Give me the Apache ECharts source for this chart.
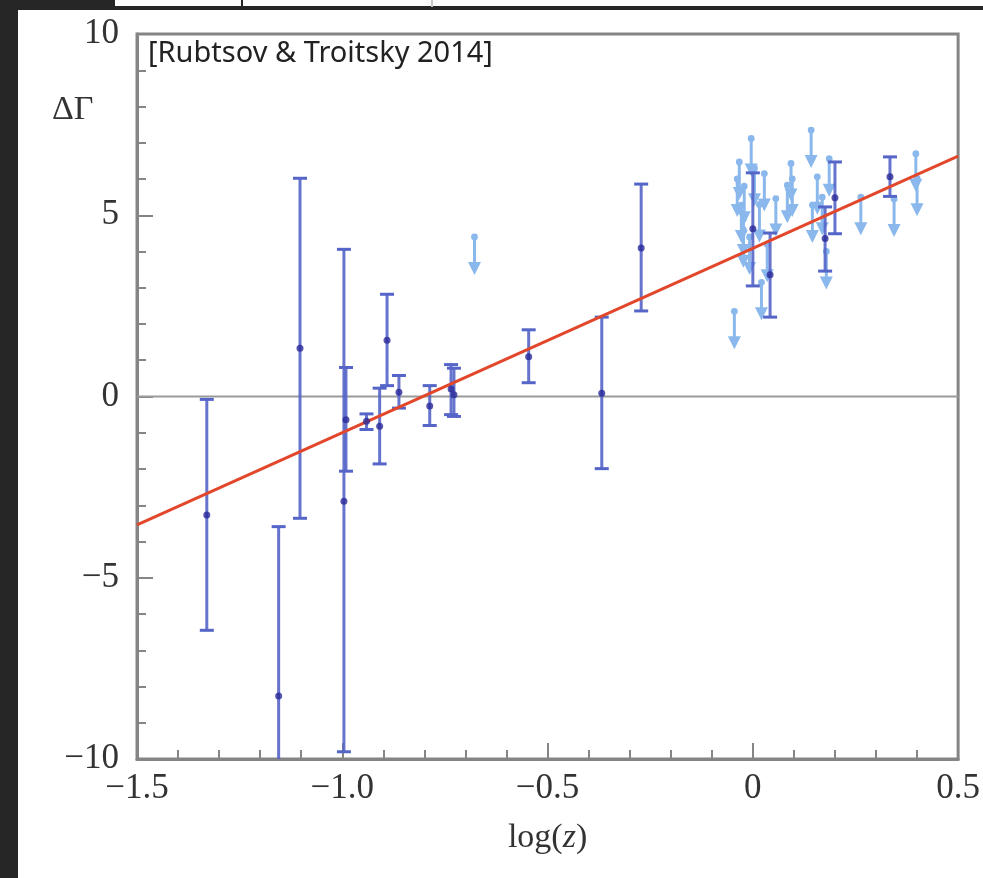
<!DOCTYPE html>
<html>
<head>
<meta charset="utf-8">
<script src="https://cdn.jsdelivr.net/npm/echarts@6/dist/echarts.min.js"></script>
<style>
html,body{margin:0;padding:0;background:#fff;}
#chart{width:983px;height:878px;}
</style>
</head>
<body>
<div id="chart"></div>
<script>
// ---- data ----
// measured points: [log z, ΔΓ, lower end of error bar, upper end of error bar]
var measuredX  = [-1.330, -1.155, -1.103, -0.996, -0.991, -0.941, -0.909, -0.891, -0.862, -0.787, -0.735, -0.728, -0.546, -0.368, -0.272, 0.000, 0.042, 0.176, 0.200, 0.334];
var measuredY  = [-3.27, -8.26, 1.33, -2.89, -0.64, -0.68, -0.82, 1.55, 0.12, -0.26, 0.21, 0.05, 1.10, 0.09, 4.10, 4.63, 3.36, 4.36, 5.48, 6.06];
var measuredLo = [-6.45, -12.0, -3.36, -9.80, -2.06, -0.91, -1.86, 0.30, -0.32, -0.80, -0.50, -0.55, 0.38, -1.99, 2.36, 3.05, 2.19, 3.46, 4.49, 5.52];
var measuredHi = [-0.08, -3.59, 6.02, 4.06, 0.80, -0.48, 0.23, 2.82, 0.58, 0.30, 0.88, 0.78, 1.84, 2.19, 5.86, 6.17, 4.51, 5.23, 6.47, 6.61];

// upper limits (light-blue arrows): [log z, ΔΓ]
var limitX = [-0.678, -0.045, -0.033, -0.038, -0.028, -0.023, -0.021, -0.023, -0.004, -0.008, 0.004, 0.016, 0.021, 0.028, 0.035, 0.056, 0.084, 0.093, 0.096, 0.142, 0.145, 0.157, 0.169, 0.179, 0.186, 0.263, 0.344, 0.397, 0.400];
var limitY = [4.40, 2.35, 6.47, 6.00, 5.28, 4.60, 5.80, 4.90, 7.12, 4.40, 6.30, 5.30, 3.15, 6.15, 4.20, 5.46, 5.83, 6.43, 6.00, 7.35, 5.28, 6.06, 5.50, 4.00, 6.56, 5.50, 5.45, 6.70, 6.02];

// linear fit (red line) end points
var fitX = [-1.5, 0.5];
var fitY = [-3.54, 6.63];

// zero reference line
var zeroX = [-1.5, 0.5];
var zeroY = [0, 0];

// axis tick labels
var xTickValues = [-1.5, -1.0, -0.5, 0, 0.5];
var xTickLabels = ['\u22121.5', '\u22121.0', '\u22120.5', '0', '0.5'];
var yTickValues = [-10, -5, 0, 5, 10];
var yTickLabels = ['\u221210', '\u22125', '0', '5', '10'];

var annotation = '[Rubtsov & Troitsky 2014]';
var yAxisTitle = '\u0394\u0393';

// ---- build ----
function zip2(a, b) { return a.map(function (v, i) { return [v, b[i]]; }); }
var measured = measuredX.map(function (x, i) { return [x, measuredY[i], measuredLo[i], measuredHi[i]]; });
var limits = zip2(limitX, limitY);

function lookup(vals, labels, v) {
  for (var i = 0; i < vals.length; i++) if (Math.abs(vals[i] - v) < 1e-9) return labels[i];
  return '';
}

var SERIF = '"Liberation Serif", "DejaVu Serif", serif';
var AXIS = '#858585';
var BAR = '#5565c8';
var DOT = '#2a2a98';
var LIM = '#8ab8ec';

var chart = echarts.init(document.getElementById('chart'), null, {renderer: 'canvas'});
chart.setOption({
  animation: false,
  backgroundColor: '#ffffff',
  grid: {left: 137, right: 24, top: 34, bottom: 119, show: true, borderColor: AXIS, borderWidth: 3, backgroundColor: 'transparent'},
  xAxis: {
    type: 'value', min: -1.5, max: 0.5, interval: 0.5,
    name: 'log({i|z})', nameLocation: 'middle', nameGap: 62,
    nameTextStyle: {fontFamily: SERIF, fontSize: 34, color: '#333',
      rich: {i: {fontFamily: SERIF, fontSize: 34, fontStyle: 'italic', color: '#333'}}},
    axisLine: {show: true, onZero: false, lineStyle: {color: AXIS, width: 3}},
    axisTick: {show: true, inside: true, length: 16, lineStyle: {color: AXIS, width: 2}},
    minorTick: {show: true, splitNumber: 5, length: 9, lineStyle: {color: AXIS, width: 2}},
    splitLine: {show: false},
    axisLabel: {fontFamily: SERIF, fontSize: 35, color: '#333', margin: 12,
      formatter: function (v) { return lookup(xTickValues, xTickLabels, v); }}
  },
  yAxis: {
    type: 'value', min: -10, max: 10, interval: 5,
    axisLine: {show: true, onZero: false, lineStyle: {color: AXIS, width: 3}},
    axisTick: {show: true, inside: true, length: 16, lineStyle: {color: AXIS, width: 2}},
    minorTick: {show: true, splitNumber: 5, length: 9, lineStyle: {color: AXIS, width: 2}},
    splitLine: {show: false},
    axisLabel: {fontFamily: SERIF, fontSize: 35, color: '#333', margin: 18,
      formatter: function (v) { return lookup(yTickValues, yTickLabels, v); }}
  },
  graphic: [
    // dark frame of the screenshot
    {type: 'rect', left: 0, top: 0, shape: {width: 18, height: 878}, style: {fill: '#262626'}, z: 100},
    {type: 'rect', left: 0, top: 0, shape: {width: 113, height: 10}, style: {fill: '#262626'}, z: 100},
    {type: 'rect', left: 0, top: 6, shape: {width: 983, height: 4}, style: {fill: '#262626'}, z: 100},
    {type: 'rect', left: 113, top: 0, shape: {width: 2, height: 7}, style: {fill: '#262626'}, z: 100},
    {type: 'rect', left: 241, top: 0, shape: {width: 2, height: 7}, style: {fill: '#262626'}, z: 100},
    {type: 'rect', left: 431, top: 0, shape: {width: 2, height: 7}, style: {fill: '#c8c8c8'}, z: 100},
    {type: 'text', left: 52, top: 93, style: {text: yAxisTitle, font: '34px ' + SERIF, fill: '#333'}, z: 50},
    {type: 'text', left: 148, top: 39, style: {text: annotation, font: '29px "Noto Sans", sans-serif', fill: '#222'}, z: 50}
  ],
  series: [
    {
      type: 'line', data: zip2(zeroX, zeroY), symbol: 'none', silent: true,
      lineStyle: {color: '#9a9a9a', width: 2}, z: 1
    },
    {
      type: 'custom', clip: true, data: limits, z: 2,
      renderItem: function (params, api) {
        var p = api.coord([api.value(0), api.value(1)]);
        var L = 37;
        return {type: 'group', children: [
          {type: 'line', shape: {x1: p[0], y1: p[1], x2: p[0], y2: p[1] + L - 6}, style: {stroke: LIM, lineWidth: 3}},
          {type: 'circle', shape: {cx: p[0], cy: p[1], r: 3.4}, style: {fill: LIM}},
          {type: 'polygon', shape: {points: [[p[0] - 6.5, p[1] + L - 12], [p[0] + 6.5, p[1] + L - 12], [p[0], p[1] + L + 1]]}, style: {fill: LIM}}
        ]};
      }
    },
    {
      type: 'custom', clip: true, data: measured, z: 3,
      renderItem: function (params, api) {
        var x = api.value(0);
        var lo = api.coord([x, api.value(2)]);
        var hi = api.coord([x, api.value(3)]);
        var c = 7;
        return {type: 'group', children: [
          {type: 'line', shape: {x1: lo[0], y1: lo[1], x2: hi[0], y2: hi[1]}, style: {stroke: BAR, lineWidth: 3, opacity: 0.9}},
          {type: 'line', shape: {x1: lo[0] - c, y1: lo[1], x2: lo[0] + c, y2: lo[1]}, style: {stroke: BAR, lineWidth: 3}},
          {type: 'line', shape: {x1: hi[0] - c, y1: hi[1], x2: hi[0] + c, y2: hi[1]}, style: {stroke: BAR, lineWidth: 3}}
        ]};
      }
    },
    {
      type: 'line', data: zip2(fitX, fitY), symbol: 'none', silent: true,
      lineStyle: {color: '#e2472c', width: 3}, z: 4
    },
    {
      type: 'scatter', data: zip2(measuredX, measuredY), symbol: 'circle', symbolSize: 7,
      itemStyle: {color: DOT}, z: 5
    }
  ]
});
</script>
</body>
</html>
